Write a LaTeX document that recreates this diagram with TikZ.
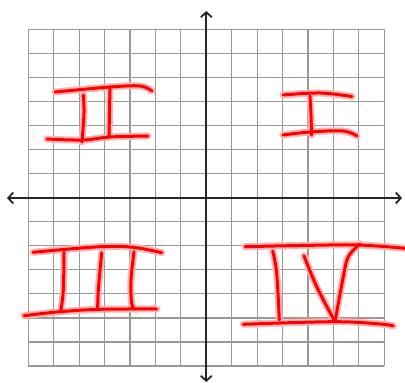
\documentclass[tikz,border=0pt]{standalone}
\usetikzlibrary{arrows.meta}
\newcommand\redstrokes[1]{%
  % I
  \draw[#1] plot[smooth, tension=0.6] coordinates {(283,95) (320,93) (352,96.5)};
  \draw[#1] plot[smooth, tension=0.6] coordinates {(310,96) (311,115) (311.5,135)};
  \draw[#1] plot[smooth, tension=0.6] coordinates {(283,135) (310,132) (343,131) (357,136)};
  % II
  \draw[#1] plot[smooth, tension=0.6] coordinates {(55,92) (110,87) (140,86) (152,91)};
  \draw[#1] plot[smooth, tension=0.6] coordinates {(83.3,95) (84,113) (82,142)};
  \draw[#1] plot[smooth, tension=0.6] coordinates {(110,88) (109.5,112) (109,136)};
  \draw[#1] plot[smooth, tension=0.6] coordinates {(47,139) (83,140) (110,137) (148,136)};
  % III
  \draw[#1] plot[smooth, tension=0.6] coordinates {(33,252.3) (100,246.7) (133,247.3) (161.7,252.7)};
  \draw[#1] plot[smooth, tension=0.6] coordinates {(64,252.3) (63.3,290) (60.7,311.7)};
  \draw[#1] plot[smooth, tension=0.6] coordinates {(101.7,252.7) (98.3,290) (97.7,309.3)};
  \draw[#1] plot[smooth, tension=0.6] coordinates {(134,251.7) (131,280) (131.7,303.3) (135,309.3)};
  \draw[#1] plot[smooth, tension=0.6] coordinates {(24,315.7) (60,311.7) (100,309.3) (156.7,309)};
  % IV
  \draw[#1] plot[smooth, tension=0.6] coordinates {(245,246.7) (300,245.5) (358,245) (405,248.3)};
  \draw[#1] plot[smooth, tension=0.6] coordinates {(272.7,251) (276.7,273.3) (279.3,320)};
  \draw[#1] plot[smooth, tension=0.6] coordinates {(304,255.7) (316.7,286.7) (335,321.7)};
  \draw[#1] plot[smooth, tension=0.6] coordinates {(335,321.7) (343.3,276.7) (348.3,256.7) (360,244)};
  \draw[#1] plot[smooth, tension=0.6] coordinates {(243.3,324.3) (333.3,321.7) (380,324) (393.3,326)};
}
\begin{document}
\begin{tikzpicture}[x=1pt,y=-1pt,
  gridline/.style={draw=black!40, line width=1.2pt},
  axisline/.style={draw=black!85, line width=1.8pt,
    {Straight Barb[length=5pt,width=11pt]}-{Straight Barb[length=5pt,width=11pt]}},
  penglow/.style={draw=red!30, line width=7pt, line cap=round, line join=round},
  pen/.style={draw=red, line width=3pt, line cap=round, line join=round}]
\useasboundingbox[fill=white] (0,0) rectangle (405,383);
% grid
\foreach \k in {0,...,14} {
  \draw[gridline] (28.3+\k*25.43,29.3) -- (28.3+\k*25.43,366);
  \draw[gridline] (28.3,29.3+\k*24.05) -- (384.3,29.3+\k*24.05);
}
% axes
\coordinate (xl) at (7,198);
\coordinate (xr) at (402,198);
\coordinate (yt) at (206.3,11);
\coordinate (yb) at (206.3,382);
\draw[axisline] (xl) -- (xr);
\draw[axisline] (yb) -- (yt);
% handwritten numerals
\redstrokes{penglow}
\redstrokes{pen}
\end{tikzpicture}
\end{document}
